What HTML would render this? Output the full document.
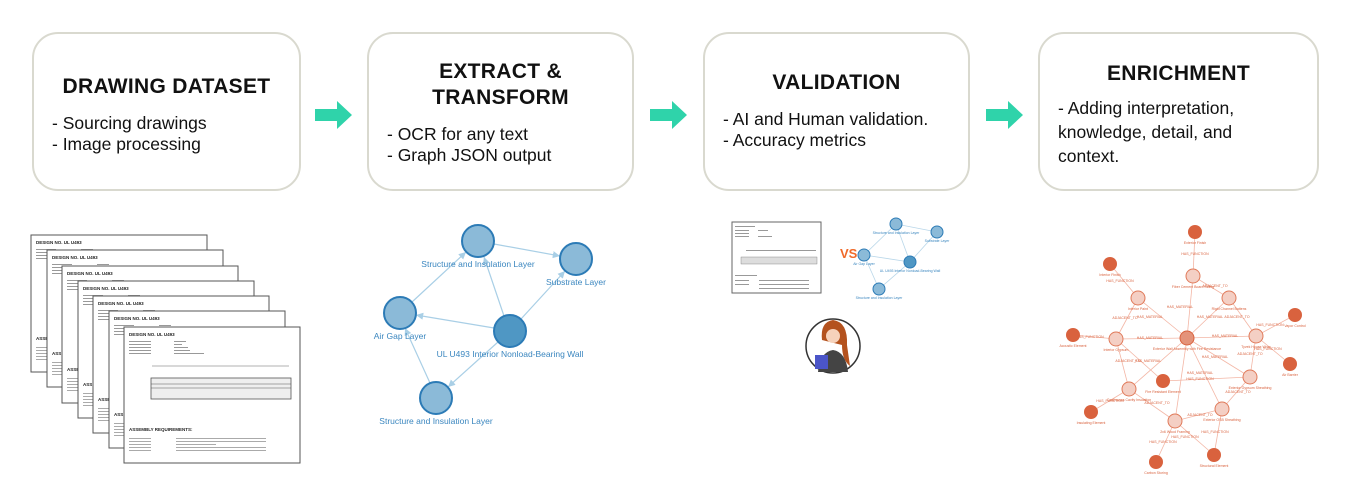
<!DOCTYPE html>
<html><head><meta charset="utf-8"><style>
body{margin:0;width:1350px;height:490px;background:#fff;font-family:"Liberation Sans",sans-serif;overflow:hidden;position:relative}
.box{position:absolute;top:32px;height:159px;border:2.5px solid #d9d9cf;border-radius:26px;box-sizing:border-box;background:#fff}
.box h2{margin:0;font-size:21px;font-weight:bold;text-align:center;color:#111;line-height:29px;letter-spacing:0.3px}
.box p{margin:0;font-size:17.5px;line-height:21px;color:#111}
.arrow{position:absolute;top:101px;width:38px;height:28px}
</style></head><body>
<div class="box" style="left:32px;width:269px"><h2 style="margin-top:38px">DRAWING DATASET</h2><p style="margin:12px 0 0 18px">- Sourcing drawings<br>- Image processing</p></div>
<div class="box" style="left:367px;width:267px"><h2 style="margin-top:25px;line-height:26px">EXTRACT &amp;<br>TRANSFORM</h2><p style="margin:13px 0 0 18px">- OCR for any text<br>- Graph JSON output</p></div>
<div class="box" style="left:703px;width:267px"><h2 style="margin-top:34px">VALIDATION</h2><p style="margin:12px 0 0 18px">- AI and Human validation.<br>- Accuracy metrics</p></div>
<div class="box" style="left:1038px;width:281px"><h2 style="margin-top:25px">ENRICHMENT</h2><p style="margin:8px 0 0 18px;line-height:24px">- Adding interpretation,<br>knowledge, detail, and<br>context.</p></div>
<svg class="arrow" style="left:315px" viewBox="0 0 38 28"><polygon points="0,8 22,8 22,0 37,14 22,28 22,20 0,20" fill="#2fd3aa"/></svg>
<svg class="arrow" style="left:650px" viewBox="0 0 38 28"><polygon points="0,8 22,8 22,0 37,14 22,28 22,20 0,20" fill="#2fd3aa"/></svg>
<svg class="arrow" style="left:986px" viewBox="0 0 38 28"><polygon points="0,8 22,8 22,0 37,14 22,28 22,20 0,20" fill="#2fd3aa"/></svg>

<svg style="position:absolute;left:0;top:0" width="1350" height="490" font-family="Liberation Sans, sans-serif">
<defs>
<g id="sheet">
<rect x="0" y="0" width="176" height="137" fill="#fff" stroke="#555" stroke-width="1"/>
<text x="5" y="9" font-size="4.5" font-weight="bold" fill="#222">DESIGN NO.     UL U493</text>
<g fill="#999"><rect x="5" y="14" width="20" height="1"/><rect x="5" y="17" width="20" height="1"/><rect x="5" y="20" width="20" height="1"/><rect x="5" y="23" width="20" height="1"/><rect x="50" y="14" width="12" height="1"/><rect x="50" y="17" width="8" height="1"/></g>
<text x="5" y="105" font-size="4.5" font-weight="bold" fill="#222">ASSEMBLY REQUIREMENTS:</text>
<g fill="#aaa"><rect x="5" y="112" width="20" height="1"/><rect x="5" y="115" width="20" height="1"/><rect x="5" y="118" width="20" height="1"/><rect x="5" y="121" width="20" height="1"/><rect x="5" y="124" width="20" height="1"/></g>
</g>
<marker id="ab" markerWidth="6" markerHeight="6" refX="6" refY="3" orient="auto"><path d="M0,0 L6,3 L0,6" fill="#a9cfe6"/></marker>
</defs>
<use href="#sheet" x="31" y="235"/><use href="#sheet" x="47" y="250"/><use href="#sheet" x="62" y="266"/><use href="#sheet" x="78" y="281"/><use href="#sheet" x="93" y="296"/><use href="#sheet" x="109" y="311"/>
<g transform="translate(124,327)">
<rect width="176" height="136" fill="#fff" stroke="#555"/>
<text x="5" y="9" font-size="4.5" font-weight="bold" fill="#222">DESIGN NO.     UL U493</text>
<g fill="#999"><rect x="5" y="14" width="22" height="1"/><rect x="5" y="17" width="22" height="1"/><rect x="5" y="20" width="22" height="1"/><rect x="5" y="23" width="22" height="1"/><rect x="5" y="26" width="22" height="1"/><rect x="50" y="14" width="12" height="1"/><rect x="50" y="17" width="8" height="1"/><rect x="50" y="20" width="14" height="1"/><rect x="50" y="23" width="16" height="1"/><rect x="50" y="26" width="30" height="1"/></g>
<line x1="28" y1="39" x2="165" y2="39" stroke="#666" stroke-width="0.6"/>
<rect x="27" y="51" width="140" height="21" fill="#eee" stroke="#555" stroke-width="0.8"/>
<line x1="27" y1="57" x2="167" y2="57" stroke="#555" stroke-width="0.5"/><line x1="27" y1="61" x2="167" y2="61" stroke="#555" stroke-width="0.5"/>
<text x="5" y="104" font-size="4.5" font-weight="bold" fill="#222">ASSEMBLY REQUIREMENTS:</text>
<g fill="#aaa"><rect x="5" y="111" width="22" height="1"/><rect x="5" y="114" width="22" height="1"/><rect x="5" y="117" width="22" height="1"/><rect x="5" y="120" width="22" height="1"/><rect x="5" y="123" width="22" height="1"/><rect x="52" y="111" width="90" height="1"/><rect x="52" y="114" width="90" height="1"/><rect x="52" y="117" width="40" height="1"/><rect x="52" y="120" width="90" height="1"/><rect x="52" y="123" width="90" height="1"/></g>
</g>

<!-- blue graph -->
<g stroke="#a9cfe6" stroke-width="1.2" marker-end="url(#ab)">
<line x1="494" y1="244" x2="560" y2="256"/><line x1="412" y1="302" x2="466" y2="252"/><line x1="504" y1="316" x2="484" y2="257"/><line x1="521" y1="319" x2="565" y2="271"/><line x1="494" y1="328" x2="416" y2="315"/><line x1="498" y1="342" x2="448" y2="387"/><line x1="430" y1="383" x2="405" y2="328"/>
</g>
<g stroke="#2c7bb6" stroke-width="2" fill="#8bbad8">
<circle cx="478" cy="241" r="16"/><circle cx="576" cy="259" r="16"/><circle cx="400" cy="313" r="16"/><circle cx="436" cy="398" r="16"/><circle cx="510" cy="331" r="16" fill="#4f97c4"/>
</g>
<g font-size="8.5" fill="#3a86bf" text-anchor="middle">
<text x="478" y="267">Structure and Insulation Layer</text><text x="576" y="285">Substrate Layer</text><text x="400" y="339">Air Gap Layer</text><text x="510" y="357">UL U493 Interior Nonload-Bearing Wall</text><text x="436" y="424">Structure and Insulation Layer</text>
</g>

<!-- validation -->
<rect x="732" y="222" width="89" height="71" fill="#fff" stroke="#666"/>
<g fill="#999"><rect x="735" y="226" width="20" height="1"/><rect x="735" y="230" width="14" height="1"/><rect x="735" y="233" width="14" height="1"/><rect x="735" y="236" width="14" height="1"/><rect x="758" y="230" width="10" height="1"/><rect x="758" y="236" width="14" height="1"/><rect x="746" y="250" width="70" height="1"/><rect x="741" y="257" width="76" height="7" fill="#ddd" stroke="#777" stroke-width="0.4"/><rect x="735" y="275" width="22" height="1"/><rect x="735" y="280" width="14" height="1"/><rect x="735" y="284" width="14" height="1"/><rect x="759" y="280" width="50" height="1"/><rect x="759" y="284" width="50" height="1"/><rect x="759" y="288" width="50" height="1"/></g>
<text x="840" y="258" font-size="13" font-weight="bold" fill="#f06a2a">VS</text>
<g stroke="#b9d7e9" stroke-width="0.8">
<line x1="896" y1="224" x2="937" y2="232"/><line x1="864" y1="255" x2="896" y2="224"/><line x1="910" y1="262" x2="896" y2="224"/><line x1="910" y1="262" x2="937" y2="232"/><line x1="910" y1="262" x2="864" y2="255"/><line x1="910" y1="262" x2="879" y2="289"/><line x1="879" y1="289" x2="864" y2="255"/></g>
<g stroke="#2c7bb6" fill="#8bbad8"><circle cx="896" cy="224" r="6"/><circle cx="937" cy="232" r="6"/><circle cx="864" cy="255" r="6"/><circle cx="879" cy="289" r="6"/><circle cx="910" cy="262" r="6" fill="#4f97c4"/></g>
<g font-size="3.5" fill="#3a86bf" text-anchor="middle"><text x="896" y="234">Structure and Insulation Layer</text><text x="937" y="242">Substrate Layer</text><text x="864" y="265">Air Gap Layer</text><text x="910" y="272">UL U493 Interior Nonload-Bearing Wall</text><text x="879" y="299">Structure and Insulation Layer</text></g>
<circle cx="833" cy="346" r="27" fill="#fff" stroke="#333" stroke-width="1.5"/>
<path d="M818 372 Q820 352 833 350 Q846 352 848 372 Z" fill="#444"/>
<path d="M822 340 Q820 322 833 320 Q848 322 847 345 L850 366 Q842 360 842 345 Z" fill="#b4521e"/>
<circle cx="833" cy="336" r="7" fill="#f6d2bb"/>
<rect x="815" y="355" width="13" height="14" fill="#4b55c8"/>

<!-- orange graph -->
<g stroke="#f3b6a5" stroke-width="0.8">
<line x1="1195" y1="232" x2="1193" y2="276"/><line x1="1110" y1="264" x2="1138" y2="298"/><line x1="1193" y1="276" x2="1229" y2="298"/><line x1="1187" y1="338" x2="1193" y2="276"/><line x1="1187" y1="338" x2="1138" y2="298"/><line x1="1187" y1="338" x2="1229" y2="298"/><line x1="1187" y1="338" x2="1116" y2="339"/><line x1="1187" y1="338" x2="1256" y2="336"/><line x1="1187" y1="338" x2="1250" y2="377"/><line x1="1187" y1="338" x2="1222" y2="409"/><line x1="1187" y1="338" x2="1175" y2="421"/><line x1="1187" y1="338" x2="1129" y2="389"/><line x1="1138" y1="298" x2="1116" y2="339"/><line x1="1229" y1="298" x2="1256" y2="336"/><line x1="1256" y1="336" x2="1295" y2="315"/><line x1="1256" y1="336" x2="1290" y2="364"/><line x1="1256" y1="336" x2="1250" y2="377"/><line x1="1116" y1="339" x2="1073" y2="335"/><line x1="1116" y1="339" x2="1129" y2="389"/><line x1="1116" y1="339" x2="1163" y2="381"/><line x1="1250" y1="377" x2="1163" y2="381"/><line x1="1250" y1="377" x2="1222" y2="409"/><line x1="1129" y1="389" x2="1091" y2="412"/><line x1="1129" y1="389" x2="1175" y2="421"/><line x1="1222" y1="409" x2="1175" y2="421"/><line x1="1222" y1="409" x2="1214" y2="455"/><line x1="1175" y1="421" x2="1214" y2="455"/><line x1="1175" y1="421" x2="1156" y2="462"/>
</g>
<g fill="#d9623e"><circle cx="1195" cy="232" r="7"/><circle cx="1110" cy="264" r="7"/><circle cx="1295" cy="315" r="7"/><circle cx="1073" cy="335" r="7"/><circle cx="1290" cy="364" r="7"/><circle cx="1163" cy="381" r="7"/><circle cx="1091" cy="412" r="7"/><circle cx="1214" cy="455" r="7"/><circle cx="1156" cy="462" r="7"/></g>
<g fill="#f4cfc4" stroke="#e07a5a" stroke-width="1"><circle cx="1193" cy="276" r="7"/><circle cx="1138" cy="298" r="7"/><circle cx="1229" cy="298" r="7"/><circle cx="1116" cy="339" r="7"/><circle cx="1256" cy="336" r="7"/><circle cx="1250" cy="377" r="7"/><circle cx="1129" cy="389" r="7"/><circle cx="1222" cy="409" r="7"/><circle cx="1175" cy="421" r="7"/></g>
<circle cx="1187" cy="338" r="7" fill="#e4937a" stroke="#d9623e"/>
<g font-size="3.5" fill="#d9623e" text-anchor="middle">
<text x="1195" y="244">Exterior Finish</text><text x="1110" y="276">Interior Finish</text><text x="1193" y="288">Fiber Cement Board Siding</text><text x="1138" y="310">Interior Paint</text><text x="1229" y="310">Rigid Channel Battens</text><text x="1295" y="327">Vapor Control</text><text x="1073" y="347">Acoustic Element</text><text x="1116" y="351">Interior Gypsum</text><text x="1187" y="350">Exterior Wall Assembly with Fire Resistance</text><text x="1256" y="348">Tyvek House Wrap</text><text x="1290" y="376">Air Barrier</text><text x="1163" y="393">Fire Resistant Element</text><text x="1250" y="389">Exterior Gypsum Sheathing</text><text x="1129" y="401">Continuous Cavity Insulation</text><text x="1222" y="421">Exterior OSB Sheathing</text><text x="1091" y="424">Insulating Element</text><text x="1175" y="433">2x6 Wood Framing</text><text x="1214" y="467">Structural Element</text><text x="1156" y="474">Carbon Storing</text>
<text x="1195" y="255">HAS_FUNCTION</text><text x="1120" y="282">HAS_FUNCTION</text><text x="1215" y="287">ADJACENT_TO</text><text x="1180" y="308">HAS_MATERIAL</text><text x="1150" y="318">HAS_MATERIAL</text><text x="1210" y="318">HAS_MATERIAL</text><text x="1237" y="318">ADJACENT_TO</text><text x="1125" y="319">ADJACENT_TO</text><text x="1150" y="339">HAS_MATERIAL</text><text x="1225" y="337">HAS_MATERIAL</text><text x="1090" y="338">HAS_FUNCTION</text><text x="1270" y="326">HAS_FUNCTION</text><text x="1268" y="350">HAS_FUNCTION</text><text x="1250" y="355">ADJACENT_TO</text><text x="1215" y="358">HAS_MATERIAL</text><text x="1128" y="362">ADJACENT_TO</text><text x="1148" y="362">HAS_MATERIAL</text><text x="1200" y="374">HAS_MATERIAL</text><text x="1200" y="380">HAS_FUNCTION</text><text x="1238" y="393">ADJACENT_TO</text><text x="1157" y="404">ADJACENT_TO</text><text x="1110" y="402">HAS_FUNCTION</text><text x="1200" y="416">ADJACENT_TO</text><text x="1215" y="433">HAS_FUNCTION</text><text x="1185" y="438">HAS_FUNCTION</text><text x="1163" y="443">HAS_FUNCTION</text>
</g>
</svg>
</body></html>
